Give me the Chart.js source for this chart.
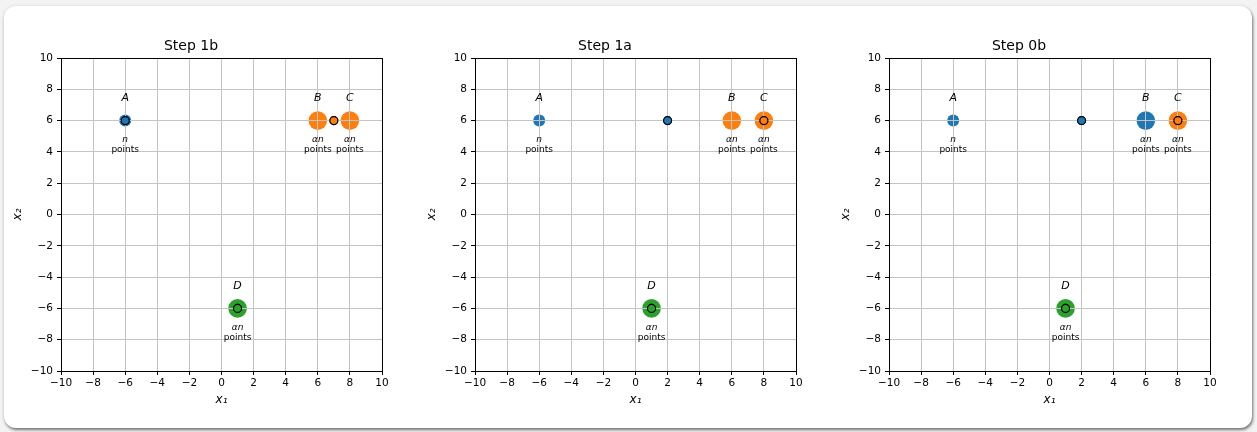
<!DOCTYPE html>
<html>
<head>
<meta charset="utf-8">
<script src="https://cdn.jsdelivr.net/npm/chart.js@4.4.1/dist/chart.umd.min.js"></script>
<style>
  html, body { margin: 0; padding: 0; width: 1257px; height: 432px; overflow: hidden; background: #f3f3f3; }
  #card {
    position: absolute; left: 4px; top: 6px; width: 1248px; height: 422px;
    background: #ffffff; border-radius: 12px;
    box-shadow: 1px 2px 3px rgba(0, 0, 0, 0.5), 0 0 4px rgba(0, 0, 0, 0.08);
  }
  canvas { position: absolute; top: 0; }
</style>
</head>
<body>
<div id="card"></div>
<canvas id="step1b" width="443" height="432" style="left:0px"></canvas>
<canvas id="step1a" width="443" height="432" style="left:414px"></canvas>
<canvas id="step0b" width="443" height="432" style="left:828px"></canvas>
<script>
// ---- data ----
const panelIds = ['step1b', 'step1a', 'step0b'];
const panelTitles = ['Step 1b', 'Step 1a', 'Step 0b'];
const tickValues = [-10, -8, -6, -4, -2, 0, 2, 4, 6, 8, 10];

// the four clusters
const clusterNames = ['A', 'B', 'C', 'D'];
const clusterX = [-6, 6, 8, 1];
const clusterY = [6, 6, 6, -6];
const clusterSizeText = ['n', 'αn', 'αn', 'αn'];

// cluster assignment (index of the centre) at each step
const step1bAssign = [0, 1, 1, 2];
const step1aAssign = [0, 1, 1, 2];
const step0bAssign = [0, 0, 1, 2];

// centre positions at each step
const step1bCenterX = [-6, 7, 1];
const step1bCenterY = [6, 6, -6];
const step1aCenterX = [2, 8, 1];
const step1aCenterY = [6, 6, -6];
const step0bCenterX = [2, 8, 1];
const step0bCenterY = [6, 6, -6];

const assignments = [step1bAssign, step1aAssign, step0bAssign];
const centersX = [step1bCenterX, step1aCenterX, step0bCenterX];
const centersY = [step1bCenterY, step1aCenterY, step0bCenterY];

// ---- styling ----
const palette = ['#1f77b4', '#ff7f0e', '#2ca02c'];
const FONT = "'DejaVu Sans', 'Liberation Sans', sans-serif";
const GRID = '#c4c4c4';

const minusTick = v => String(v).replace('-', '\u2212');

// draws centres above the grid, the axes frame and the cluster annotations
const overlayPlugin = {
  id: 'overlay',
  afterDraw(chart) {
    const ctx = chart.ctx;
    const area = chart.chartArea;
    const xs = chart.scales.x, ys = chart.scales.y;

    // centres sit above the grid lines
    chart.getDatasetMeta(0).data.forEach(el => el.draw(ctx, area));

    // full box frame
    ctx.save();
    ctx.strokeStyle = '#000';
    ctx.lineWidth = 1;
    ctx.strokeRect(Math.round(area.left) + 0.5, Math.round(area.top) + 0.5,
                   Math.round(area.right - area.left), Math.round(area.bottom - area.top));
    ctx.restore();

    // cluster annotations
    ctx.save();
    ctx.fillStyle = '#000';
    ctx.textAlign = 'center';
    ctx.textBaseline = 'middle';
    clusterNames.forEach((name, i) => {
      const px = xs.getPixelForValue(clusterX[i]);
      const py = ys.getPixelForValue(clusterY[i]);
      ctx.font = 'italic 11px ' + FONT;
      ctx.fillText(name, px, py - 22);
      ctx.font = 'italic 9px ' + FONT;
      ctx.fillText(clusterSizeText[i], px, py + 19);
      ctx.font = '9px ' + FONT;
      ctx.fillText('points', px, py + 29);
    });
    ctx.restore();
  }
};

function axisOptions(isX) {
  return {
    type: 'linear',
    position: isX ? 'bottom' : 'left',
    min: -10,
    max: 10,
    afterBuildTicks: scale => { scale.ticks = tickValues.map(v => ({ value: v })); },
    afterFit: scale => {
      if (isX) scale.height = 61; else scale.width = 61;
    },
    grid: {
      z: 1,
      color: GRID,
      lineWidth: 1,
      drawTicks: true,
      tickLength: 4,
      tickColor: '#000',
      tickWidth: 1
    },
    border: { display: false },
    ticks: {
      color: '#000',
      font: { family: FONT, size: 10.5 },
      padding: isX ? 2 : 4,
      maxRotation: 0,
      autoSkip: false,
      callback: minusTick
    },
    title: {
      display: true,
      text: isX ? 'x\u2081' : 'x\u2082',
      color: '#000',
      font: { family: FONT, size: 12, style: 'italic', lineHeight: 1.2 },
      padding: isX ? { top: 0, bottom: 24.8 } : { top: 10.8, bottom: 0 }
    }
  };
}

panelIds.forEach((id, p) => {
  const assign = assignments[p];
  new Chart(document.getElementById(id), {
    type: 'scatter',
    data: {
      datasets: [
        {
          // centres (index 0 -> drawn on top)
          data: centersX[p].map((x, k) => ({ x: x, y: centersY[p][k] })),
          pointBackgroundColor: centersX[p].map((_, k) => palette[k]),
          pointBorderColor: '#000',
          pointBorderWidth: 1.1,
          pointRadius: 4,
          pointHoverRadius: 4
        },
        {
          // clusters, sized by their weight
          data: clusterX.map((x, k) => ({ x: x, y: clusterY[k] })),
          pointBackgroundColor: assign.map(c => palette[c]),
          pointBorderWidth: 0,
          pointBorderColor: 'rgba(0,0,0,0)',
          pointRadius: clusterSizeText.map(t => (t === 'n' ? 6 : 9.3)),
          pointHoverRadius: clusterSizeText.map(t => (t === 'n' ? 6 : 9.3))
        }
      ]
    },
    options: {
      responsive: false,
      animation: false,
      devicePixelRatio: 1,
      events: [],
      layout: { padding: { left: 0, right: 61, top: 0, bottom: 0 } },
      plugins: {
        legend: { display: false },
        tooltip: { enabled: false },
        title: {
          display: true,
          text: panelTitles[p],
          color: '#000',
          font: { family: FONT, size: 14, weight: 'normal', lineHeight: 1.2 },
          padding: { top: 38.1, bottom: 3.1 }
        }
      },
      scales: { x: axisOptions(true), y: axisOptions(false) }
    },
    plugins: [overlayPlugin]
  });
});
</script>
</body>
</html>
